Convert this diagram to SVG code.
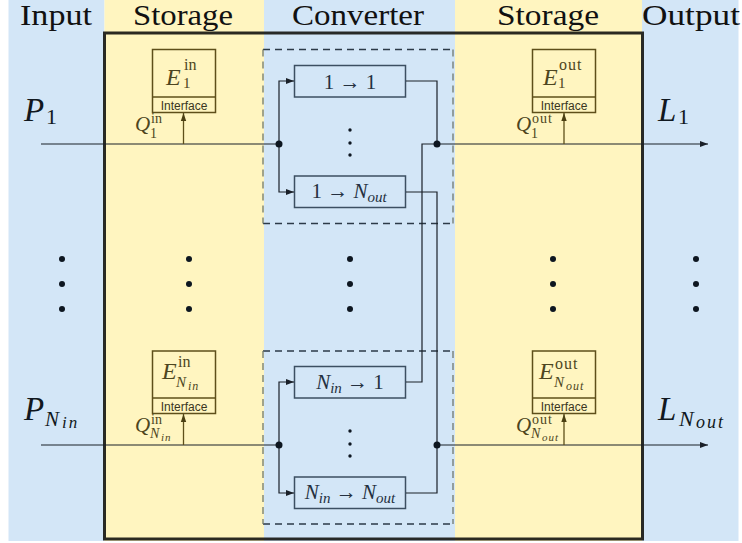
<svg xmlns="http://www.w3.org/2000/svg" width="742" height="543" viewBox="0 0 742 543">
<style>
.blue{fill:#d3e6f7}
.yel{fill:#fff5c0}
.hdr{font-family:"Liberation Serif",serif;font-size:29px;fill:#111}
.m{font-family:"Liberation Serif",serif;font-style:italic}
.r{font-style:normal}
.lbl{fill:#111820}
.olv{fill:#4d4520}
.sto{fill:none;stroke:#5e4f1a;stroke-width:1.5}
.ifc{font-family:"Liberation Sans",Arial,sans-serif;font-size:12px;fill:#3a3520;text-anchor:middle}
.cbox{fill:none;stroke:#3c4f62;stroke-width:1.5}
.ctx{font-family:"Liberation Serif",serif;font-size:21px;fill:#243040;text-anchor:middle}
.dashh{fill:none;stroke:#2c3a48;stroke-width:1.3;stroke-dasharray:7 5}
.dashv{fill:none;stroke:#6f776e;stroke-width:1.3;stroke-dasharray:7 5}
.ln{fill:none;stroke:#1a2028;stroke-width:1.2}
.lo{fill:none;stroke:#5e4f1a;stroke-width:1.3}
.dot{fill:#0d1620}
</style>
<defs>
<marker id="ah" markerUnits="userSpaceOnUse" markerWidth="9" markerHeight="7" refX="8" refY="3.5" orient="auto"><path d="M0,0.5 L8,3.5 L0,6.5 z" fill="#1a2028"/></marker>
<marker id="aho" markerUnits="userSpaceOnUse" markerWidth="9" markerHeight="7" refX="8" refY="3.5" orient="auto"><path d="M0,0.8 L8,3.5 L0,6.2 z" fill="#4a3f12"/></marker>
</defs>
<g id="background">
<rect class="blue" x="8.5" y="0" width="96" height="541"/>
<rect class="yel" x="104.5" y="0" width="159.5" height="541"/>
<rect class="blue" x="264" y="0" width="191" height="541"/>
<rect class="yel" x="455" y="0" width="187" height="541"/>
<rect class="blue" x="642" y="0" width="96.5" height="541"/>
<rect x="104.5" y="33" width="538" height="506" fill="none" stroke="#141410" stroke-opacity="0.9" stroke-width="3"/>
</g>
<g id="headers">
<text class="hdr" x="20" y="25" textLength="72" lengthAdjust="spacingAndGlyphs">Input</text>
<text class="hdr" x="133" y="25" textLength="100" lengthAdjust="spacingAndGlyphs">Storage</text>
<text class="hdr" x="292" y="25" textLength="132" lengthAdjust="spacingAndGlyphs">Converter</text>
<text class="hdr" x="497" y="25" textLength="102" lengthAdjust="spacingAndGlyphs">Storage</text>
<text class="hdr" x="642" y="25" textLength="98" lengthAdjust="spacingAndGlyphs">Output</text>
</g>
<g id="input-labels">
<text class="m lbl"><tspan x="24" y="121" font-size="33">P</tspan><tspan class="r" x="46" y="124" font-size="22">1</tspan></text>
<text class="m lbl"><tspan x="24" y="420" font-size="33">P</tspan><tspan x="45" y="426" font-size="21">N</tspan><tspan x="62" y="428" font-size="17" letter-spacing="2">in</tspan></text>
</g>
<g id="output-labels">
<text class="m lbl"><tspan x="658" y="121" font-size="33">L</tspan><tspan class="r" x="678" y="124" font-size="22">1</tspan></text>
<text class="m lbl"><tspan x="658" y="420" font-size="33">L</tspan><tspan x="679" y="426" font-size="22">N</tspan><tspan x="696" y="428" font-size="18" letter-spacing="2">out</tspan></text>
</g>
<g id="storage-in-1">
<rect class="sto" x="152.5" y="49.5" width="63" height="63"/>
<line class="sto" x1="152.5" y1="97" x2="215.5" y2="97"/>
<text class="ifc" x="184" y="110">Interface</text>
<text class="m olv"><tspan x="166" y="85" font-size="24">E</tspan><tspan class="r" x="184" y="70" font-size="16">in</tspan><tspan class="r" x="183" y="88" font-size="15">1</tspan></text>
<text class="m olv"><tspan x="135" y="131" font-size="21">Q</tspan><tspan class="r" x="151" y="123" font-size="14">in</tspan><tspan class="r" x="150" y="138" font-size="14">1</tspan></text>
</g>
<g id="storage-in-N">
<rect class="sto" x="152.5" y="351" width="63" height="62.5"/>
<line class="sto" x1="152.5" y1="398" x2="215.5" y2="398"/>
<text class="ifc" x="184" y="410.5">Interface</text>
<text class="m olv"><tspan x="162" y="379" font-size="24">E</tspan><tspan class="r" x="178" y="367" font-size="16">in</tspan><tspan x="176" y="387" font-size="15">N</tspan><tspan x="188" y="390" font-size="12" letter-spacing="1">in</tspan></text>
<text class="m olv"><tspan x="135" y="432" font-size="21">Q</tspan><tspan class="r" x="151" y="424" font-size="14">in</tspan><tspan x="150" y="438" font-size="14">N</tspan><tspan x="161" y="441" font-size="11" letter-spacing="1">in</tspan></text>
</g>
<g id="storage-out-1">
<rect class="sto" x="532.5" y="49.5" width="63" height="63"/>
<line class="sto" x1="532.5" y1="97" x2="595.5" y2="97"/>
<text class="ifc" x="564" y="110">Interface</text>
<text class="m olv"><tspan x="543" y="85" font-size="24">E</tspan><tspan class="r" x="559" y="70" font-size="16" letter-spacing="1">out</tspan><tspan class="r" x="558" y="88" font-size="15">1</tspan></text>
<text class="m olv"><tspan x="516" y="131" font-size="21">Q</tspan><tspan class="r" x="532" y="123" font-size="14" letter-spacing="1">out</tspan><tspan class="r" x="531" y="138" font-size="14">1</tspan></text>
</g>
<g id="storage-out-N">
<rect class="sto" x="532.5" y="351" width="63" height="62.5"/>
<line class="sto" x1="532.5" y1="398" x2="595.5" y2="398"/>
<text class="ifc" x="564" y="410.5">Interface</text>
<text class="m olv"><tspan x="539" y="379" font-size="24">E</tspan><tspan class="r" x="555" y="369" font-size="16" letter-spacing="1">out</tspan><tspan x="554" y="387" font-size="15">N</tspan><tspan x="566" y="390" font-size="12" letter-spacing="1">out</tspan></text>
<text class="m olv"><tspan x="516" y="432" font-size="21">Q</tspan><tspan class="r" x="532" y="424" font-size="14" letter-spacing="1">out</tspan><tspan x="531" y="438" font-size="14">N</tspan><tspan x="542" y="441" font-size="11" letter-spacing="1">out</tspan></text>
</g>
<g id="converter-group-1">
<path class="dashh" d="M263,49.5 H453 M263,223.5 H453"/>
<path class="dashv" d="M263,49.5 V223.5 M453,49.5 V223.5"/>
</g>
<g id="conv-1-1">
<rect class="cbox" x="294.5" y="65.5" width="111" height="31.5"/>
<text class="ctx" x="350" y="89">1 → 1</text>
</g>
<g id="conv-1-Nout">
<rect class="cbox" x="294.5" y="176" width="111" height="31.5"/>
<text class="ctx" x="349" y="198">1 → <tspan font-style="italic">N</tspan><tspan font-style="italic" font-size="15" dy="4">out</tspan></text>
</g>
<g id="converter-group-N">
<path class="dashh" d="M263,351 H453 M263,524 H453"/>
<path class="dashv" d="M263,351 V524 M453,351 V524"/>
</g>
<g id="conv-Nin-1">
<rect class="cbox" x="294.5" y="366.5" width="111" height="31.5"/>
<text class="ctx" x="350" y="389"><tspan font-style="italic">N</tspan><tspan font-style="italic" font-size="15" dy="4">in</tspan><tspan dy="-4"> → 1</tspan></text>
</g>
<g id="conv-Nin-Nout">
<rect class="cbox" x="294.5" y="477" width="111" height="31.5"/>
<text class="ctx" x="350" y="499"><tspan font-style="italic">N</tspan><tspan font-style="italic" font-size="15" dy="4">in</tspan><tspan dy="-4"> → </tspan><tspan font-style="italic">N</tspan><tspan font-style="italic" font-size="15" dy="4">out</tspan></text>
</g>
<g id="ellipses">
<circle class="dot" cx="62" cy="259" r="3"/><circle class="dot" cx="62" cy="284" r="3"/><circle class="dot" cx="62" cy="309" r="3"/>
<circle class="dot" cx="189" cy="259" r="3"/><circle class="dot" cx="189" cy="284" r="3"/><circle class="dot" cx="189" cy="309" r="3"/>
<circle class="dot" cx="350" cy="259" r="3"/><circle class="dot" cx="350" cy="284" r="3"/><circle class="dot" cx="350" cy="309" r="3"/>
<circle class="dot" cx="553" cy="259" r="3"/><circle class="dot" cx="553" cy="284" r="3"/><circle class="dot" cx="553" cy="309" r="3"/>
<circle class="dot" cx="696" cy="259" r="3"/><circle class="dot" cx="696" cy="284" r="3"/><circle class="dot" cx="696" cy="309" r="3"/>
<circle class="dot" cx="350" cy="130" r="1.7"/><circle class="dot" cx="350" cy="143" r="1.7"/><circle class="dot" cx="350" cy="155" r="1.7"/>
<circle class="dot" cx="350" cy="431" r="1.7"/><circle class="dot" cx="350" cy="444" r="1.7"/><circle class="dot" cx="350" cy="456" r="1.7"/>
</g>
<g id="connectors">
<path class="ln" d="M41,144 H279"/>
<path class="ln" d="M279,144 V81 H294" marker-end="url(#ah)"/>
<path class="ln" d="M279,144 V192 H294" marker-end="url(#ah)"/>
<path class="ln" d="M406,81 H437 V144"/>
<path class="ln" d="M437,144 H708" marker-end="url(#ah)"/>
<path class="ln" d="M406,382 H422 V144 H437"/>
<path class="ln" d="M406,192 H437 V445"/>
<path class="ln" d="M406,493 H437 V445"/>
<path class="ln" d="M437,445 H708" marker-end="url(#ah)"/>
<path class="ln" d="M41,445 H279"/>
<path class="ln" d="M279,445 V382 H294" marker-end="url(#ah)"/>
<path class="ln" d="M279,445 V493 H294" marker-end="url(#ah)"/>
<path class="lo" d="M183.5,144 V113" marker-end="url(#aho)"/>
<path class="lo" d="M183.5,445 V414" marker-end="url(#aho)"/>
<path class="lo" d="M564,144 V113" marker-end="url(#aho)"/>
<path class="lo" d="M564,445 V414" marker-end="url(#aho)"/>
<circle class="dot" cx="279" cy="144" r="3.5"/>
<circle class="dot" cx="437" cy="144" r="3.5"/>
<circle class="dot" cx="279" cy="445" r="3.5"/>
<circle class="dot" cx="437" cy="445" r="3.5"/>
</g>
</svg>
